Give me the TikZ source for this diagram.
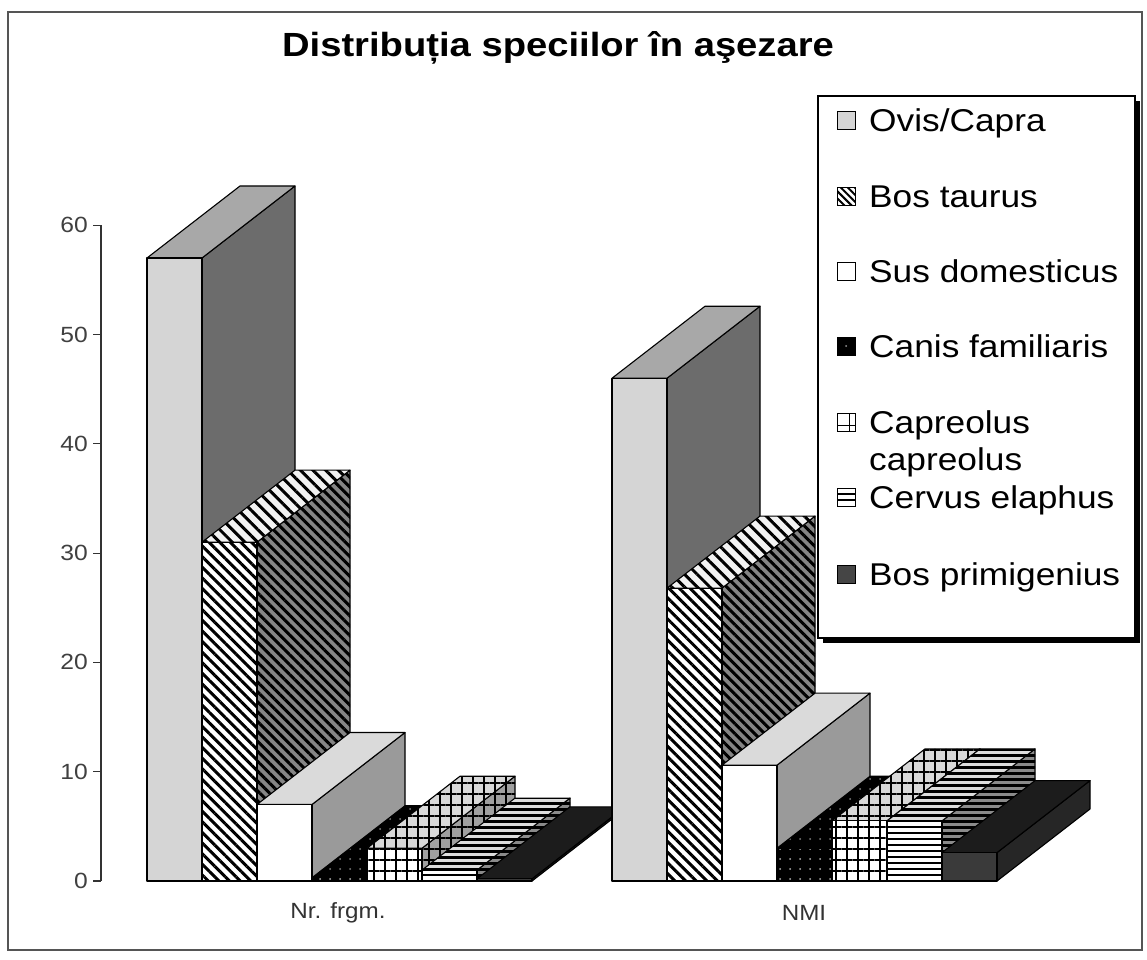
\documentclass[tikz,border=0pt]{standalone}
\usepackage{fontspec}
\setmainfont{Liberation Sans}
\usetikzlibrary{patterns.meta}
\definecolor{cOvF}{HTML}{D5D5D5}
\definecolor{cOvT}{HTML}{A8A8A8}
\definecolor{cOvS}{HTML}{6C6C6C}
\definecolor{cBtT}{HTML}{F2F2F2}
\definecolor{cBtS}{HTML}{858585}
\definecolor{cSuT}{HTML}{DADADA}
\definecolor{cSuS}{HTML}{9A9A9A}
\definecolor{cCaT}{HTML}{D8D8D8}
\definecolor{cCaS}{HTML}{A0A0A0}
\definecolor{cCeT}{HTML}{DDDDDD}
\definecolor{cCeS}{HTML}{8A8A8A}
\definecolor{cBpF}{HTML}{3A3A3A}
\definecolor{cBpT}{HTML}{1C1C1C}
\definecolor{cBpS}{HTML}{262626}
\definecolor{cFrame}{HTML}{555555}
\definecolor{cLeg}{HTML}{454545}

\tikzset{
  barface/.style={draw=black, line width=1.1pt, line join=round},
  sOvF/.style={fill=cOvF}, sOvT/.style={fill=cOvT}, sOvS/.style={fill=cOvS},
  sBtF/.style={preaction={fill=white}, pattern={Lines[angle=-45,distance=7.5pt,line width=3pt]}, pattern color=black},
  sBtT/.style={preaction={fill=cBtT}, pattern={Lines[angle=-45,distance=9pt,line width=3pt]}, pattern color=black},
  sBtS/.style={preaction={fill=cBtS}, pattern={Lines[angle=-45,distance=7pt,line width=3pt]}, pattern color=black},
  sSuF/.style={fill=white}, sSuT/.style={fill=cSuT}, sSuS/.style={fill=cSuS},
  sCnF/.style={preaction={fill=black}, pattern={Dots[distance=10pt,radius=1pt]}, pattern color=white!70!black},
  sCnT/.style={preaction={fill=black}, pattern={Dots[distance=10pt,radius=1pt]}, pattern color=white!50!black},
  sCnS/.style={fill=black},
  sCpF/.style={preaction={fill=white}, pattern={Hatch[distance=11pt,line width=1.6pt]}, pattern color=black},
  sCpT/.style={preaction={fill=cCaT}, pattern={Hatch[distance=11pt,line width=1.6pt]}, pattern color=black},
  sCpS/.style={preaction={fill=cCaS}, pattern={Hatch[distance=11pt,line width=1.6pt]}, pattern color=black},
  sCeF/.style={preaction={fill=white}, pattern={Lines[angle=0,distance=6pt,line width=2.4pt]}, pattern color=black},
  sCeT/.style={preaction={fill=cCeT}, pattern={Lines[angle=0,distance=6pt,line width=3pt]}, pattern color=black},
  sCeS/.style={preaction={fill=cCeS}, pattern={Lines[angle=0,distance=6pt,line width=3pt]}, pattern color=black},
  sBpF/.style={fill=cBpF}, sBpT/.style={fill=cBpT}, sBpS/.style={fill=cBpS},
  legtext/.style={anchor=base west, inner sep=0pt, font=\fontsize{31.5}{37}\selectfont},
  legmark/.style={draw=black, line width=1pt},
  axlab/.style={anchor=east, inner sep=0pt, text=black!75, font=\fontsize{22}{26}\selectfont},
  catlab/.style={inner sep=0pt, text=black!80, font=\fontsize{22}{26}\selectfont},
}

\newcommand\cubebar[5]{%
  \pgfmathsetmacro\cbYt{881-10.93*(#2)}%
  \pgfmathsetmacro\cbYb{\cbYt-72}%
  \pgfmathsetmacro\cbXl{#1}%
  \pgfmathsetmacro\cbXr{#1+55}%
  \pgfmathsetmacro\cbXb{#1+93}%
  \pgfmathsetmacro\cbXbr{#1+148}%
  \path[barface,#5] (\cbXr,881) -- (\cbXr,\cbYt) -- (\cbXbr,\cbYb) -- (\cbXbr,809) -- cycle;
  \path[barface,#4] (\cbXl,\cbYt) -- (\cbXr,\cbYt) -- (\cbXbr,\cbYb) -- (\cbXb,\cbYb) -- cycle;
  \path[barface,#3] (\cbXl,881) rectangle (\cbXr,\cbYt);
}
\newcommand\bargroup[8]{%
  \cubebar{#1}{#2}{sOvF}{sOvT}{sOvS}%
  \cubebar{#1+55}{#3}{sBtF}{sBtT}{sBtS}%
  \cubebar{#1+110}{#4}{sSuF}{sSuT}{sSuS}%
  \cubebar{#1+165}{#5}{sCnF}{sCnT}{sCnS}%
  \cubebar{#1+220}{#6}{sCpF}{sCpT}{sCpS}%
  \cubebar{#1+275}{#7}{sCeF}{sCeT}{sCeS}%
  \cubebar{#1+330}{#8}{sBpF}{sBpT}{sBpS}%
}

\begin{document}
\begin{tikzpicture}[x=1pt,y=-1pt]
\useasboundingbox (0,0) rectangle (1147,959);
\fill[white] (0,0) rectangle (1147,959);
% frame
\draw[cFrame, line width=2pt] (8,12) rectangle (1142,950);

% title
\node[inner sep=0pt, anchor=base] (title) at (558,56)
  {\fontsize{33.5}{40}\selectfont\bfseries\scalebox{1.14}[1]{Distribuția speciilor în aşezare}};

% value axis
\draw[black!80, line width=1.2pt] (101,225) -- (101,881);
\foreach \v in {0,10,...,60}{
  \pgfmathsetmacro\ty{881-10.93*\v}
  \draw[black!80, line width=1.2pt] (93,\ty) -- (101,\ty);
  \node[axlab] (t\v) at (88,\ty) {\scalebox{1.12}[1]{\v}};
}

% bars
\bargroup{147}{57}{31}{7}{0.3}{3}{1}{0.2}
\bargroup{612}{46}{26.8}{10.6}{3}{5.5}{5.5}{2.6}

% category labels
\node[catlab] (c1) at (338,913) {\scalebox{1.1}[1]{Nr. frgm.}};
\node[catlab] (c2) at (804,913) {\scalebox{1.1}[1]{NMI}};

% legend
\fill[black] (823,101) rectangle (1140,643);
\draw[black, line width=1.2pt, fill=white] (818,96) rectangle (1135,638);

\draw[legmark, fill=cOvF] (837,111) rectangle (855,129);
\node[legtext] (l1) at (869,131) {\scalebox{1.12}[1]{Ovis/Capra}};

\draw[legmark, preaction={fill=white}, pattern={Lines[angle=-45,distance=5pt,line width=2pt]}, pattern color=black] (837,187) rectangle (855,205);
\node[legtext] (l2) at (869,207) {\scalebox{1.12}[1]{Bos taurus}};

\draw[legmark, fill=white] (837,262) rectangle (855,280);
\node[legtext] (l3) at (869,282) {\scalebox{1.12}[1]{Sus domesticus}};

\draw[legmark, fill=black] (837,337) rectangle (855,355);
\fill[white!60!black] (846,346) circle (1pt);
\node[legtext] (l4) at (869,357) {\scalebox{1.12}[1]{Canis familiaris}};

\draw[legmark, fill=white] (837,413) rectangle (855,431);
\draw[black, line width=1pt] (849,413) -- (849,431) (837,425) -- (855,425);
\node[legtext] (l5) at (869,433) {\scalebox{1.12}[1]{Capreolus}};
\node[legtext] (l5b) at (869,470) {\scalebox{1.12}[1]{capreolus}};

\draw[legmark, fill=white] (837,488) rectangle (855,506);
\draw[black, line width=1.6pt] (837,494) -- (855,494) (837,500) -- (855,500);
\node[legtext] (l6) at (869,508) {\scalebox{1.12}[1]{Cervus elaphus}};

\draw[legmark, fill=cLeg] (837,565) rectangle (855,583);
\node[legtext] (l7) at (869,585) {\scalebox{1.12}[1]{Bos primigenius}};
\end{tikzpicture}
\end{document}
